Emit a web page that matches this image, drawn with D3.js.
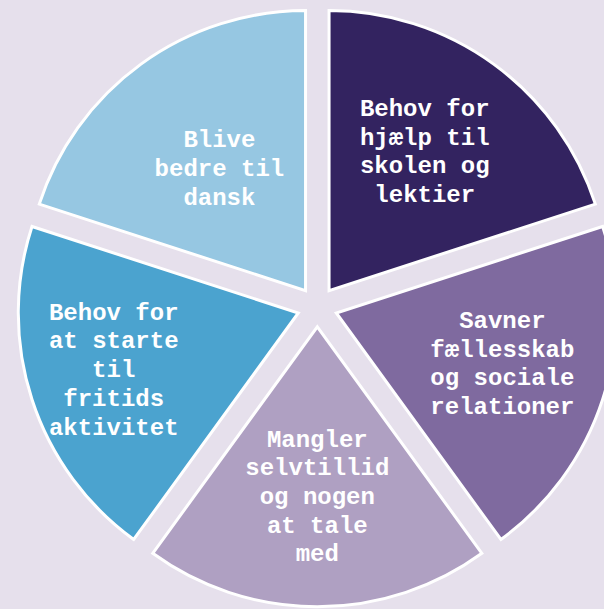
<!DOCTYPE html>
<html>
<head>
<meta charset="utf-8">
<script src="https://cdn.jsdelivr.net/npm/d3@7"></script>
<style>
  html, body { margin: 0; padding: 0; background: #e6e0ec; }
  svg { display: block; }
</style>
</head>
<body>
<svg id="chart" width="604" height="609"></svg>
<script>
// ---- data ----
const categories = [
  "Behov for hjælp til skolen og lektier",
  "Savner fællesskab og sociale relationer",
  "Mangler selvtillid og nogen at tale med",
  "Behov for at starte til fritids aktivitet",
  "Blive bedre til dansk"
];
const values = [1, 1, 1, 1, 1];
const labelLines = [
  ["Behov for", "hjælp til", "skolen og", "lektier"],
  ["Savner", "fællesskab", "og sociale", "relationer"],
  ["Mangler", "selvtillid", "og nogen", "at tale", "med"],
  ["Behov for", "at starte", "til", "fritids", "aktivitet"],
  ["Blive", "bedre til", "dansk"]
];
const colors = ["#332360", "#7f6a9f", "#afa0c2", "#4ba3cf", "#96c7e2"];

// ---- layout / style ----
const W = 604, H = 609;
const cx = 317.3, cy = 306.8;
const R = 280;
const explode = 20;
// label placement relative to each exploded slice apex (radius, angle in degrees)
const labelRadius = [172, 172.5, 166, 192, 152.5];
const labelAngle = [33.8, 105.7, 180, 254, 325.6];
const fontSize = 24, lineH = 28.7;

const svg = d3.select("#chart");
svg.append("rect").attr("width", W).attr("height", H).attr("fill", "#e6e0ec");

const pie = d3.pie().sort(null).value(d => d).startAngle(0).endAngle(2 * Math.PI);
const arcs = pie(values);
const arc = d3.arc().innerRadius(0).outerRadius(R);

const g = svg.append("g").attr("transform", `translate(${cx},${cy})`);

const slices = g.selectAll("g.slice").data(arcs).enter().append("g")
  .attr("class", "slice")
  .attr("transform", d => {
    const a = (d.startAngle + d.endAngle) / 2;
    return `translate(${explode * Math.sin(a)},${-explode * Math.cos(a)})`;
  });

slices.append("path")
  .attr("d", arc)
  .attr("fill", (d, i) => colors[i])
  .attr("stroke", "#ffffff")
  .attr("stroke-width", 3)
  .attr("stroke-linejoin", "miter");

slices.each(function(d, i) {
  const a = labelAngle[i] * Math.PI / 180;
  const lx = labelRadius[i] * Math.sin(a);
  const ly = -labelRadius[i] * Math.cos(a);
  const lines = labelLines[i];
  const t = d3.select(this).append("text")
    .attr("text-anchor", "middle")
    .attr("font-family", "'Courier New', 'Liberation Mono', monospace")
    .attr("font-weight", "bold")
    .attr("font-size", fontSize)
    .attr("fill", "#ffffff");
  const top = ly - (lines.length - 1) * lineH / 2;
  lines.forEach((s, k) => {
    t.append("tspan")
      .attr("x", lx)
      .attr("y", top + k * lineH)
      .attr("dy", "0.47em")
      .text(s);
  });
});
</script>
</body>
</html>
